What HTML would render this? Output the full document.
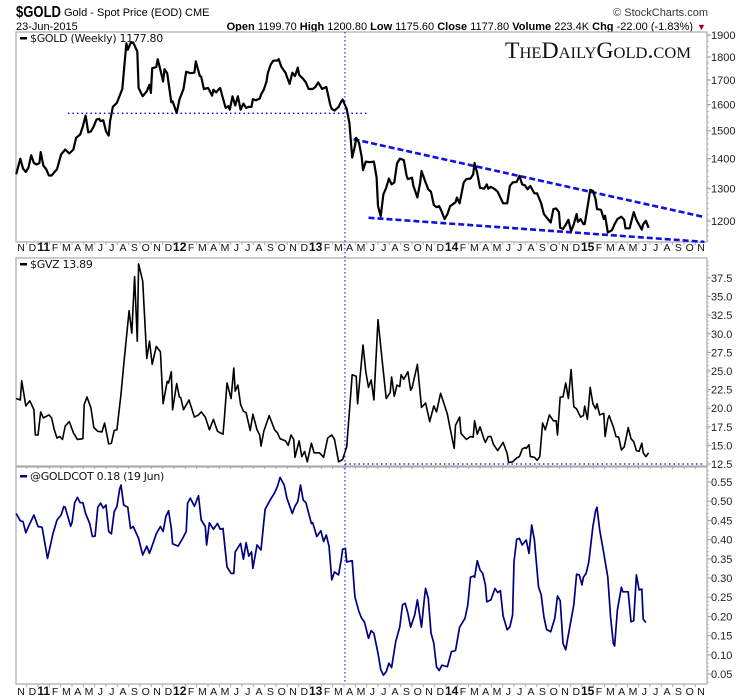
<!DOCTYPE html>
<html><head><meta charset="utf-8"><style>
html,body{margin:0;padding:0;background:#fff;}
svg{display:block;font-family:"Liberation Sans",sans-serif;}
</style></head><body>
<svg id="chart" width="750" height="700" viewBox="0 0 750 700" xmlns="http://www.w3.org/2000/svg">
<g>
<text x="16" y="17" font-size="16" font-weight="bold" fill="#000" textLength="45" lengthAdjust="spacingAndGlyphs">$GOLD</text>
<text x="64" y="16" font-size="11" fill="#000">Gold - Spot Price (EOD) CME</text>
<text x="708" y="16" font-size="11" fill="#333" text-anchor="end">© StockCharts.com</text>
<text x="16" y="30" font-size="11" fill="#000">23-Jun-2015</text>
<text x="693" y="30" font-size="11" fill="#000" text-anchor="end"><tspan font-weight="bold">Open</tspan> 1199.70 <tspan font-weight="bold">High</tspan> 1200.80 <tspan font-weight="bold">Low</tspan> 1175.60 <tspan font-weight="bold">Close</tspan> 1177.80 <tspan font-weight="bold">Volume</tspan> 223.4K <tspan font-weight="bold">Chg</tspan> -22.00 (-1.83%)</text>
<text x="697" y="30" font-size="9" fill="#a00020">▼</text>
</g>
<text x="598" y="58" font-size="23" font-family="Liberation Serif, serif" text-anchor="middle" fill="#111" style="font-variant:small-caps" textLength="186" lengthAdjust="spacingAndGlyphs">TheDailyGold.com</text>
<g id="layer"></g>
</svg>
<script>
const goldDates=[2010.84,2010.87,2010.89,2010.91,2010.93,2010.95,2010.97,2010.99,2011.01,2011.02,2011.04,2011.06,2011.08,2011.10,2011.14,2011.17,2011.20,2011.23,2011.26,2011.28,2011.31,2011.33,2011.35,2011.37,2011.39,2011.41,2011.43,2011.45,2011.46,2011.48,2011.50,2011.52,2011.53,2011.55,2011.58,2011.62,2011.63,2011.65,2011.66,2011.68,2011.70,2011.73,2011.74,2011.77,2011.80,2011.82,2011.83,2011.84,2011.87,2011.88,2011.90,2011.92,2011.93,2011.95,2011.98,2011.99,2012.02,2012.04,2012.07,2012.09,2012.12,2012.15,2012.16,2012.19,2012.20,2012.22,2012.25,2012.26,2012.28,2012.29,2012.31,2012.33,2012.34,2012.36,2012.38,2012.40,2012.41,2012.43,2012.45,2012.47,2012.49,2012.51,2012.53,2012.55,2012.57,2012.58,2012.60,2012.63,2012.64,2012.66,2012.68,2012.69,2012.71,2012.73,2012.76,2012.77,2012.79,2012.82,2012.83,2012.85,2012.87,2012.89,2012.91,2012.92,2012.95,2012.97,2012.99,2013.02,2013.04,2013.06,2013.09,2013.12,2013.15,2013.16,2013.18,2013.21,2013.23,2013.24,2013.27,2013.29,2013.31,2013.33,2013.34,2013.36,2013.38,2013.39,2013.41,2013.44,2013.47,2013.49,2013.50,2013.52,2013.54,2013.56,2013.58,2013.60,2013.62,2013.64,2013.66,2013.69,2013.71,2013.72,2013.75,2013.76,2013.79,2013.81,2013.82,2013.85,2013.87,2013.89,2013.91,2013.93,2013.95,2013.97,2013.99,2014.01,2014.03,2014.07,2014.08,2014.10,2014.13,2014.15,2014.18,2014.20,2014.21,2014.23,2014.25,2014.28,2014.30,2014.31,2014.33,2014.36,2014.38,2014.42,2014.45,2014.47,2014.49,2014.52,2014.54,2014.56,2014.58,2014.60,2014.62,2014.65,2014.67,2014.70,2014.72,2014.74,2014.77,2014.79,2014.81,2014.83,2014.84,2014.86,2014.88,2014.90,2014.92,2014.94,2014.96,2014.97,2014.99,2015.01,2015.02,2015.05,2015.06,2015.08,2015.10,2015.11,2015.14,2015.16,2015.17,2015.19,2015.22,2015.24,2015.26,2015.29,2015.31,2015.32,2015.35,2015.38,2015.40,2015.44,2015.45,2015.47,2015.49];
const goldValues=[1347,1400,1366,1355,1370,1412,1385,1380,1385,1423,1376,1364,1343,1343,1364,1415,1432,1418,1432,1474,1486,1517,1557,1494,1498,1517,1542,1545,1536,1539,1498,1482,1536,1591,1607,1663,1729,1862,1832,1862,1865,1824,1667,1633,1654,1680,1647,1750,1756,1790,1743,1694,1746,1729,1609,1613,1567,1620,1663,1736,1729,1731,1780,1717,1714,1663,1667,1658,1636,1660,1649,1663,1667,1624,1587,1594,1580,1633,1597,1633,1580,1604,1587,1591,1591,1622,1617,1624,1640,1660,1694,1729,1765,1783,1784,1790,1756,1731,1714,1684,1731,1717,1753,1722,1705,1690,1663,1663,1671,1690,1663,1671,1597,1583,1577,1591,1613,1620,1583,1529,1404,1444,1474,1456,1406,1361,1390,1388,1390,1336,1246,1214,1282,1303,1333,1314,1320,1383,1400,1395,1342,1331,1336,1309,1272,1320,1358,1320,1298,1290,1249,1242,1245,1227,1206,1221,1245,1257,1272,1254,1320,1331,1333,1347,1385,1350,1303,1300,1314,1300,1306,1298,1290,1254,1254,1309,1320,1322,1342,1314,1311,1298,1309,1285,1285,1254,1221,1211,1196,1236,1238,1227,1180,1177,1189,1204,1170,1191,1221,1198,1206,1191,1191,1267,1296,1293,1267,1236,1234,1206,1216,1167,1173,1191,1206,1213,1204,1179,1179,1227,1204,1175,1191,1201,1180];
const gvzDates=[2010.84,2010.87,2010.88,2010.91,2010.94,2010.97,2010.98,2011.00,2011.02,2011.04,2011.08,2011.10,2011.12,2011.14,2011.16,2011.18,2011.20,2011.23,2011.26,2011.29,2011.33,2011.34,2011.36,2011.39,2011.41,2011.44,2011.47,2011.49,2011.52,2011.54,2011.56,2011.58,2011.61,2011.63,2011.67,2011.69,2011.71,2011.73,2011.74,2011.77,2011.80,2011.82,2011.84,2011.87,2011.90,2011.92,2011.95,2011.96,2011.98,2011.99,2012.02,2012.04,2012.05,2012.07,2012.11,2012.15,2012.18,2012.20,2012.23,2012.26,2012.29,2012.32,2012.36,2012.37,2012.39,2012.42,2012.44,2012.45,2012.47,2012.49,2012.51,2012.53,2012.56,2012.58,2012.61,2012.63,2012.64,2012.66,2012.70,2012.74,2012.76,2012.78,2012.82,2012.84,2012.86,2012.88,2012.89,2012.92,2012.94,2012.96,2012.98,2013.01,2013.03,2013.07,2013.10,2013.13,2013.16,2013.18,2013.21,2013.24,2013.27,2013.31,2013.34,2013.35,2013.39,2013.41,2013.43,2013.45,2013.47,2013.50,2013.53,2013.56,2013.59,2013.60,2013.62,2013.64,2013.66,2013.67,2013.69,2013.72,2013.74,2013.75,2013.79,2013.82,2013.85,2013.88,2013.91,2013.93,2013.96,2014.01,2014.03,2014.06,2014.07,2014.10,2014.11,2014.15,2014.18,2014.20,2014.21,2014.23,2014.25,2014.28,2014.29,2014.31,2014.33,2014.35,2014.38,2014.42,2014.45,2014.46,2014.49,2014.52,2014.54,2014.56,2014.58,2014.59,2014.61,2014.62,2014.65,2014.67,2014.69,2014.71,2014.73,2014.76,2014.79,2014.81,2014.82,2014.84,2014.86,2014.88,2014.90,2014.92,2014.94,2014.96,2014.99,2015.01,2015.02,2015.04,2015.06,2015.08,2015.10,2015.11,2015.13,2015.16,2015.17,2015.19,2015.20,2015.23,2015.25,2015.27,2015.29,2015.31,2015.33,2015.34,2015.36,2015.38,2015.40,2015.42,2015.44,2015.45,2015.47,2015.49];
const gvzValues=[21.3,21.1,23.7,20.3,21.0,19.8,16.4,16.4,19.5,18.7,19.1,18.7,17.1,16.0,16.2,15.8,17.6,18.2,16.7,15.8,15.9,20.5,21.5,20.0,17.4,16.9,16.8,18.0,15.2,15.3,17.0,17.1,21.9,25.8,33.1,30.1,37.7,29.0,39.4,37.1,26.7,29.0,25.9,28.3,27.6,20.6,23.6,23.4,24.9,19.8,23.3,21.5,21.4,19.8,21.1,18.8,19.1,19.5,18.8,17.1,18.5,16.9,16.5,18.5,23.4,21.3,25.4,22.3,23.1,20.5,19.6,19.4,17.0,19.2,17.1,16.4,14.9,16.9,19.0,17.1,16.7,15.9,15.6,15.0,16.4,15.8,13.4,15.6,13.5,14.2,12.8,15.3,14.0,14.0,13.4,16.0,16.4,15.8,12.8,13.1,14.8,24.5,24.3,20.6,28.5,24.9,22.8,23.8,21.1,31.9,26.5,21.3,22.1,24.2,21.6,23.1,22.9,24.5,23.9,24.9,22.4,22.7,25.9,20.1,20.7,18.2,20.3,19.5,22.0,19.2,17.3,14.6,17.7,18.8,16.6,15.8,16.2,16.1,18.3,16.5,17.5,15.8,15.4,16.2,16.2,15.1,14.3,15.4,13.9,12.7,12.8,13.3,13.5,14.5,14.7,14.6,15.1,13.5,13.4,13.0,13.5,18.0,17.1,19.1,18.3,18.3,16.4,21.5,21.5,23.4,21.3,25.2,20.2,19.9,18.8,19.0,20.3,18.5,22.8,20.6,19.9,20.6,19.1,19.3,16.2,18.5,19.0,17.5,16.2,16.1,14.4,14.8,16.5,17.4,15.9,15.5,14.3,14.2,15.3,14.0,13.5,14.0];
const cotDates=[2010.84,2010.87,2010.89,2010.91,2010.93,2010.97,2011.00,2011.03,2011.07,2011.11,2011.14,2011.17,2011.19,2011.20,2011.24,2011.25,2011.27,2011.29,2011.31,2011.33,2011.35,2011.38,2011.40,2011.42,2011.44,2011.46,2011.48,2011.50,2011.52,2011.54,2011.56,2011.58,2011.60,2011.61,2011.63,2011.66,2011.68,2011.70,2011.74,2011.77,2011.80,2011.82,2011.87,2011.90,2011.92,2011.94,2011.96,2011.98,2011.99,2012.03,2012.06,2012.09,2012.10,2012.12,2012.15,2012.18,2012.20,2012.23,2012.24,2012.26,2012.29,2012.32,2012.34,2012.36,2012.39,2012.42,2012.44,2012.45,2012.49,2012.51,2012.53,2012.55,2012.57,2012.58,2012.61,2012.64,2012.67,2012.71,2012.74,2012.76,2012.78,2012.81,2012.83,2012.87,2012.89,2012.91,2012.93,2012.95,2012.97,2013.01,2013.02,2013.05,2013.08,2013.10,2013.12,2013.14,2013.16,2013.18,2013.21,2013.23,2013.24,2013.26,2013.27,2013.31,2013.33,2013.36,2013.38,2013.40,2013.43,2013.45,2013.47,2013.50,2013.52,2013.54,2013.56,2013.58,2013.60,2013.63,2013.66,2013.68,2013.70,2013.72,2013.74,2013.77,2013.79,2013.82,2013.84,2013.85,2013.87,2013.89,2013.91,2013.93,2013.95,2013.97,2014.01,2014.04,2014.07,2014.10,2014.14,2014.16,2014.18,2014.20,2014.21,2014.23,2014.25,2014.27,2014.29,2014.30,2014.33,2014.36,2014.38,2014.40,2014.42,2014.45,2014.47,2014.49,2014.50,2014.52,2014.54,2014.56,2014.59,2014.61,2014.63,2014.65,2014.68,2014.70,2014.72,2014.74,2014.77,2014.80,2014.82,2014.84,2014.86,2014.88,2014.91,2014.94,2014.96,2014.98,2015.00,2015.01,2015.03,2015.05,2015.08,2015.10,2015.11,2015.13,2015.16,2015.19,2015.21,2015.23,2015.24,2015.26,2015.29,2015.30,2015.34,2015.36,2015.38,2015.40,2015.42,2015.44,2015.45,2015.47];
const cotValues=[0.468,0.449,0.447,0.418,0.434,0.464,0.434,0.432,0.351,0.416,0.451,0.464,0.486,0.484,0.435,0.444,0.496,0.510,0.496,0.496,0.468,0.442,0.408,0.409,0.484,0.495,0.482,0.490,0.421,0.415,0.473,0.486,0.531,0.542,0.490,0.484,0.429,0.434,0.403,0.360,0.383,0.364,0.415,0.434,0.421,0.460,0.475,0.429,0.389,0.383,0.401,0.421,0.495,0.508,0.487,0.514,0.451,0.434,0.386,0.444,0.427,0.442,0.427,0.429,0.329,0.312,0.312,0.368,0.390,0.349,0.392,0.357,0.368,0.325,0.386,0.373,0.479,0.505,0.522,0.538,0.562,0.542,0.508,0.468,0.487,0.499,0.542,0.503,0.496,0.442,0.444,0.408,0.423,0.395,0.412,0.383,0.295,0.316,0.308,0.349,0.375,0.377,0.342,0.345,0.251,0.212,0.195,0.186,0.143,0.163,0.156,0.104,0.062,0.047,0.056,0.078,0.067,0.134,0.173,0.230,0.234,0.208,0.172,0.204,0.243,0.172,0.243,0.273,0.247,0.157,0.130,0.069,0.059,0.073,0.069,0.108,0.111,0.172,0.195,0.230,0.302,0.305,0.302,0.345,0.321,0.312,0.282,0.238,0.243,0.273,0.262,0.267,0.201,0.165,0.173,0.204,0.342,0.401,0.403,0.386,0.399,0.364,0.438,0.399,0.277,0.256,0.199,0.166,0.160,0.195,0.253,0.241,0.130,0.113,0.173,0.230,0.310,0.308,0.282,0.302,0.312,0.342,0.434,0.475,0.484,0.425,0.364,0.302,0.198,0.130,0.123,0.217,0.276,0.264,0.264,0.186,0.189,0.308,0.269,0.271,0.193,0.184];
const goldTicks=[1900,1800,1700,1600,1500,1400,1300,1200];
const gvzTicks=[37.5,35.0,32.5,30.0,27.5,25.0,22.5,20.0,17.5,15.0,12.5];
const cotTicks=[0.55,0.50,0.45,0.40,0.35,0.30,0.25,0.20,0.15,0.10,0.05];
const monthLetters=["J","F","M","A","M","J","J","A","S","O","N","D"];
const supportLevel=1566;
const eventDate=2013.257;
const upperTrend=[[2013.32,1469],[2015.90,1212]];
const lowerTrend=[[2013.43,1210],[2015.90,1140]];
const gvzFloor=12.5;

const NS="http://www.w3.org/2000/svg";
const L=16,R=707;
const P1={top:32,bot:242},P2={top:258,bot:466},P3={top:467,bot:684};
const xOf=d=>38+(d-2011)*136;
const yGold=p=>35+405*Math.log(1900/p);
const yGvz=v=>464-(v-12.5)*7.44;
const yCot=v=>482+(0.55-v)*384;
const layer=document.getElementById('layer');
function mk(tag,attrs,parent){const e=document.createElementNS(NS,tag);for(const k in attrs)e.setAttribute(k,attrs[k]);(parent||layer).appendChild(e);return e;}

function panel(p,name){
  const g=mk('g',{});
  
  
  const r=mk('rect',{x:L,y:p.top,width:R-L,height:p.bot-p.top,fill:'none',stroke:'#aaa','stroke-width':1.2},g);
  
  
  for(let t=-2;t<=58;t++){const x=38+t*11.333;if(x<L||x>R)continue;
    mk('line',{x1:x,x2:x,y1:p.bot,y2:p.bot+3,stroke:'#aaa','stroke-width':1},g);}
  return g;
}
function yAxis(ticks,yf,p,fmt,name,minor){
  const g=mk('g',{});
  
  
  ticks.forEach(v=>{const y=yf(v);
    mk('line',{x1:R,x2:R+4,y1:y,y2:y,stroke:'#999'},g);
    const t=mk('text',{x:R+4,y:y+4,'font-size':11,fill:'#222'},g);
    t.textContent=fmt(v);
    
    });
  for(let y=p.top+4;y<p.bot;y+=minor){mk('line',{x1:R,x2:R+2,y1:y,y2:y,stroke:'#bbb'},g);}
}
function series(dates,vals,yf,color,w,name){
  let d='';dates.forEach((dt,i)=>{d+=(i?'L':'M')+xOf(dt).toFixed(1)+','+yf(vals[i]).toFixed(1);});
  const pth=mk('path',{d:d,fill:'none',stroke:color,'stroke-width':w,'stroke-linejoin':'round'});
  
  
}
function monthRow(y,name){
  const g=mk('g',{});
  
  
  for(let t=-2;t<=58;t++){const x=38+t*11.333+5.7;
    const m=((t%12)+12)%12;const yr=2011+Math.floor(t/12);
    const lbl=mk('text',{x:x,y:y,'font-size':m===0?12:10.5,'font-weight':m===0?'bold':'normal','text-anchor':'middle',fill:'#111'},g);
    lbl.textContent=m===0?String(yr%100):monthLetters[m];
    
    }
}
panel(P1,'gold-panel');panel(P2,'gvz-panel');panel(P3,'cot-panel');
yAxis(goldTicks,yGold,P1,v=>String(v),'gold-y-axis',5.4);
yAxis(gvzTicks,yGvz,P2,v=>v.toFixed(1),'gvz-y-axis',3.7);
yAxis(cotTicks,yCot,P3,v=>v.toFixed(2),'cot-y-axis',3.84);
monthRow(251,'x-axis-months-top');monthRow(695,'x-axis-months-bottom');

let a=mk('line',{x1:xOf(eventDate),x2:xOf(eventDate),y1:P1.top,y2:P3.bot,stroke:'#0000ee','stroke-width':1,'stroke-dasharray':'1.5,2.5'});

a=mk('line',{x1:xOf(2011.22),x2:xOf(2013.42),y1:yGold(supportLevel),y2:yGold(supportLevel),stroke:'#0000ee','stroke-width':1.3,'stroke-dasharray':'1.5,3'});

a=mk('line',{x1:xOf(upperTrend[0][0]),y1:yGold(upperTrend[0][1]),x2:xOf(upperTrend[1][0]),y2:yGold(upperTrend[1][1]),stroke:'#1010e0','stroke-width':2.6,'stroke-dasharray':'6,3'});

a=mk('line',{x1:xOf(lowerTrend[0][0]),y1:yGold(lowerTrend[0][1]),x2:xOf(lowerTrend[1][0]),y2:yGold(lowerTrend[1][1]),stroke:'#1010e0','stroke-width':2.6,'stroke-dasharray':'6,3'});

a=mk('line',{x1:xOf(eventDate),x2:R-2,y1:yGvz(gvzFloor),y2:yGvz(gvzFloor),stroke:'#0000ee','stroke-width':1.3,'stroke-dasharray':'1.5,3'});


series(goldDates,goldValues,yGold,'#000',2.2,'gold-price-line');
series(gvzDates,gvzValues,yGvz,'#000',1.6,'gvz-line');
series(cotDates,cotValues,yCot,'#000080',1.7,'goldcot-line');

function legend(y,txt,color,name){
  const g=mk('g',{});
  
  
  mk('rect',{x:20,y:y-5,width:7,height:2.5,fill:color},g);
  const t=mk('text',{x:30,y:y,'font-size':11,fill:'#111','font-family':'DejaVu Sans, sans-serif','letter-spacing':'-0.3'},g);
  t.textContent=txt;
}
legend(42,'$GOLD (Weekly) 1177.80','#000','gold-legend');
legend(268,'$GVZ 13.89','#000','gvz-legend');
legend(480,'@GOLDCOT 0.18 (19 Jun)','#000080','cot-legend');
</script>
</body></html>
